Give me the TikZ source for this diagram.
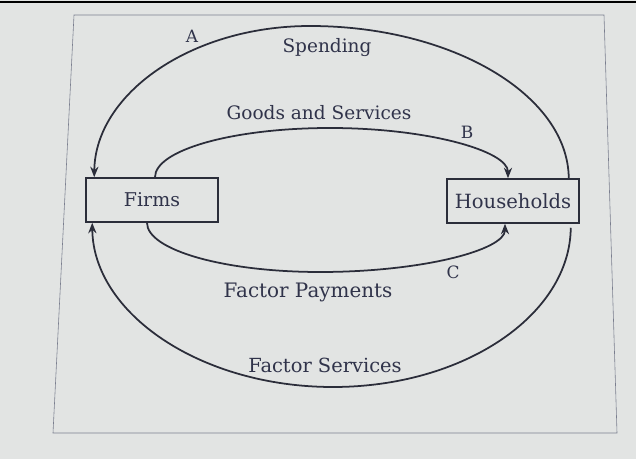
\documentclass[tikz,border=0pt]{standalone}
\usepackage{fontspec}
\setmainfont{DejaVu Serif}
\usetikzlibrary{arrows.meta,calc}
\definecolor{ink}{HTML}{2B2D3A}
\definecolor{txt}{HTML}{30334A}
\definecolor{framec}{HTML}{7A7E8E}
\definecolor{bg}{HTML}{E2E4E3}
\begin{document}
\begin{tikzpicture}[x=0.03cm,y=-0.03cm,
  box/.style={draw=ink,line width=1.3pt,minimum width=3.96cm,minimum height=1.32cm,inner sep=0pt,text=txt,font=\fontsize{16.2}{20}\selectfont},
  flow/.style={draw=ink,line width=1.5pt,-{Stealth[length=9pt,width=7pt]}},
  lbl/.style={text=txt,font=\fontsize{15.8}{19}\selectfont,inner sep=0pt},
  letter/.style={text=txt,font=\fontsize{14.5}{18}\selectfont,inner sep=0pt}]
\fill[bg] (0,0) rectangle (636,459);
\useasboundingbox (0,0) rectangle (636,459);
\draw[black,line width=2pt] (0,2) -- (636,2);
\draw[framec,line width=0.5pt] (74,15) -- (604,15) -- (617,433) -- (53,433) -- cycle;

\node[box] (firms) at (152,200) {Firms};
\node[box,font=\fontsize{16.7}{20}\selectfont] (hh) at (513,201) {Households};

% Spending (A): Households -> Firms, over the top
\draw[flow] ([xshift=-0.33cm]hh.north east) .. controls (568,95) and (452,26) .. (310,26)
  .. controls (191,26) and (95,94) .. ([xshift=0.27cm]firms.north west);
% Goods and Services (B): Firms -> Households
\draw[flow] ([xshift=0.09cm]firms.north) .. controls (155,150) and (233,128) .. (330,128)
  .. controls (428,128) and (508,151) .. ([xshift=-0.15cm]hh.north);
% Factor Payments (C): Firms -> Households
\draw[flow] ([xshift=-0.15cm]firms.south) .. controls (147,250) and (224,272) .. (320,272)
  .. controls (422,272) and (505,250) .. ([xshift=-0.24cm]hh.south);
% Factor Services: Households -> Firms, underneath
\draw[flow] ([xshift=-0.27cm,yshift=-0.12cm]hh.south east) .. controls (570,315) and (464,387) .. (333,387)
  .. controls (200,387) and (93,313) .. ([xshift=0.21cm]firms.south west);

\node[letter] (la) at (192,36) {A};
\node[lbl] (ls) at (327,48) {Spending};
\node[lbl] (lg) at (319,113) {Goods and Services};
\node[letter] (lb) at (467,132) {B};
\node[letter] (lc) at (453,272) {C};
\node[lbl,font=\fontsize{17}{20}\selectfont] (lp) at (308,292) {Factor Payments};
\node[lbl,font=\fontsize{16.6}{20}\selectfont] (lf) at (325,365) {Factor Services};
\end{tikzpicture}
\end{document}
